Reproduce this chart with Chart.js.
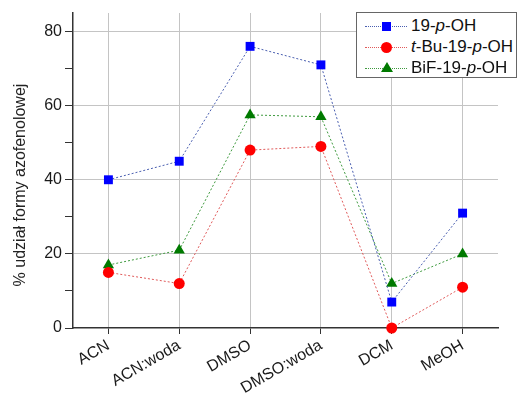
<!DOCTYPE html>
<html>
<head>
<meta charset="utf-8">
<script src="https://cdn.jsdelivr.net/npm/chart.js@4"></script>
<style>
  body { margin: 0; background: #fff; }
  #wrap { position: relative; width: 520px; height: 394px; }
  #legend {
    position: absolute; left: 356px; top: 12px; width: 161px; height: 66px;
    border: 1px solid #666; background: #fff; box-sizing: border-box;
    font-family: "Liberation Sans", Arial, sans-serif; font-size: 17px; color: #111;
  }
  .row { position: absolute; left: 0; height: 22px; line-height: 22px; }
  .sample { position: absolute; left: 8px; top: 11px; width: 42px; border-top: 1px dotted; }
  .mark { position: absolute; }
  .txt { position: absolute; left: 54px; top: 0; white-space: nowrap; }
</style>
</head>
<body>
<div id="wrap">
  <canvas id="chart" width="520" height="394"></canvas>
  <div id="legend"></div>
</div>
<script>
// categories (solvents)
const categories = ["ACN", "ACN:woda", "DMSO", "DMSO:woda", "DCM", "MeOH"];

// series values, % of azophenol form
const seriesNames = ["19-<i>p</i>-OH", "<i>t</i>-Bu-19-<i>p</i>-OH", "BiF-19-<i>p</i>-OH"];
const plainOH = [40, 45, 76, 71, 7, 31];
const tBuOH = [15, 12, 48, 49, 0, 11];
const bifOH = [17, 21, 57.5, 57, 12, 20];

const colors = ["#0000ff", "#ff0000", "#007a00"];
const lineColors = ["#4a5fb0", "#e05a5a", "#3f9a3f"];
const shapes = ["rect", "circle", "triangle"];
const radii = [6.3, 5.5, 6.5];

const yTitle = "% udział formy azofenolowej";
const font = "'Liberation Sans', Arial, sans-serif";

const yTitlePlugin = {
  id: "yTitle",
  afterDraw(chart) {
    const ctx = chart.ctx;
    ctx.save();
    ctx.translate(21, 185);
    ctx.rotate(-Math.PI / 2);
    ctx.font = "16px " + font;
    ctx.fillStyle = "#222";
    ctx.textAlign = "center";
    ctx.textBaseline = "middle";
    ctx.fillText(yTitle, 0, 0);
    ctx.restore();
  }
};

const datasets = [plainOH, tBuOH, bifOH].map((d, i) => ({
  label: seriesNames[i],
  data: d,
  borderColor: lineColors[i],
  borderWidth: 1,
  borderDash: [2, 2],
  pointStyle: shapes[i],
  pointRadius: radii[i],
  pointHoverRadius: radii[i],
  pointBackgroundColor: colors[i],
  pointBorderColor: colors[i],
  pointBorderWidth: 0,
  tension: 0,
  fill: false,
  clip: false
}));

new Chart(document.getElementById("chart").getContext("2d"), {
  type: "line",
  data: { labels: categories, datasets: datasets },
  options: {
    responsive: false,
    animation: false,
    layout: { padding: { top: 13, right: 22, left: 0, bottom: 0 } },
    plugins: { legend: { display: false }, tooltip: { enabled: false } },
    scales: {
      x: {
        offset: true,
        grid: { color: "#c4c4c4", lineWidth: 1, tickColor: "#333", tickLength: 6, offset: false },
        border: { color: "#333", width: 1.5 },
        ticks: {
          autoSkip: false, minRotation: 30, maxRotation: 30,
          font: { family: font, size: 16 }, color: "#1a1a1a", padding: 2
        },
        afterFit(scale) { scale.height = 66; }
      },
      y: {
        min: 0,
        max: 85,
        grid: {
          color: (c) => (c.tick && c.tick.value % 20 === 0 && c.tick.value > 0 ? "#c4c4c4" : "transparent"),
          tickColor: (c) => (c.tick && c.tick.value % 10 === 0 ? "#333" : "transparent"),
          tickLength: 8
        },
        border: { color: "#333", width: 1.5 },
        ticks: {
          stepSize: 10,
          font: { family: font, size: 16 }, color: "#1a1a1a", padding: 3,
          callback: (v) => (v % 20 === 0 ? v : "")
        },
        afterFit(scale) { scale.width = 73; }
      }
    }
  },
  plugins: [yTitlePlugin]
});

// html legend with boxed frame
const legend = document.getElementById("legend");
const tops = [2, 23, 44];
seriesNames.forEach((name, i) => {
  const row = document.createElement("div");
  row.className = "row";
  row.style.top = tops[i] + "px";
  row.style.width = "100%";
  const sample = document.createElement("div");
  sample.className = "sample";
  sample.style.borderTopColor = lineColors[i];
  row.appendChild(sample);
  const mark = document.createElement("div");
  mark.className = "mark";
  if (shapes[i] === "rect") {
    Object.assign(mark.style, { left: "25px", top: "7px", width: "9px", height: "9px", background: colors[i] });
  } else if (shapes[i] === "circle") {
    Object.assign(mark.style, { left: "24px", top: "6px", width: "11px", height: "11px", borderRadius: "50%", background: colors[i] });
  } else {
    Object.assign(mark.style, { left: "24px", top: "5px", width: "0", height: "0",
      borderLeft: "6px solid transparent", borderRight: "6px solid transparent", borderBottom: "10px solid " + colors[i] });
  }
  row.appendChild(mark);
  const txt = document.createElement("span");
  txt.className = "txt";
  txt.innerHTML = name;
  row.appendChild(txt);
  legend.appendChild(row);
});
</script>
</body>
</html>
